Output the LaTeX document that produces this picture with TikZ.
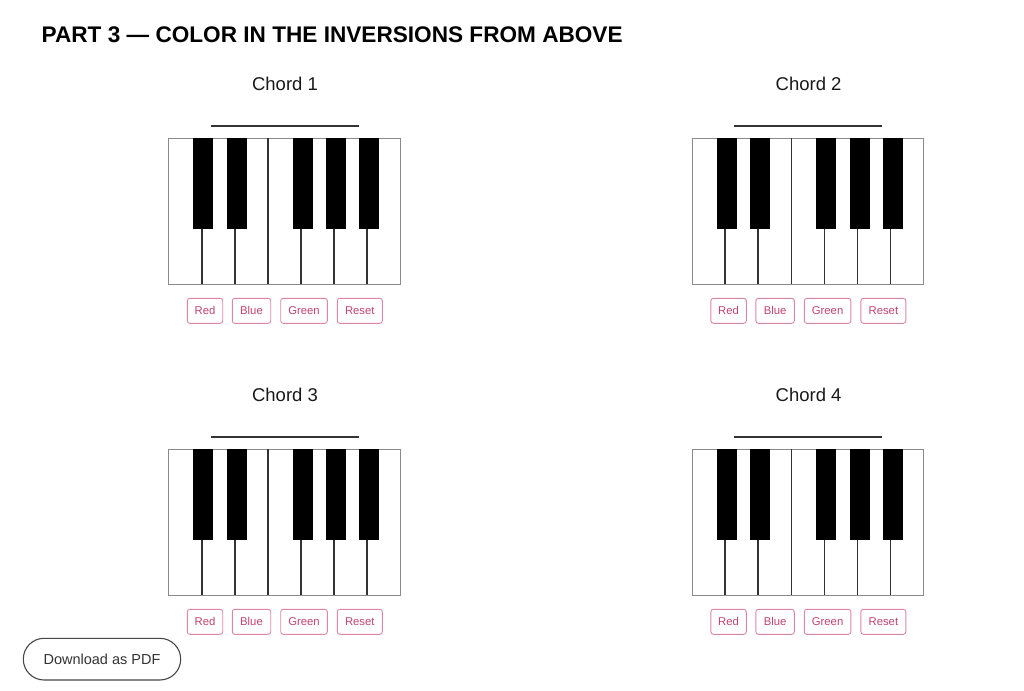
\documentclass[tikz,border=0pt]{standalone}
\usepackage{fontspec}
\setmainfont{Liberation Sans}
\definecolor{btnborder}{HTML}{DE86A6}
\definecolor{btntext}{HTML}{C2436F}
\definecolor{dline}{HTML}{333333}
\definecolor{kborder}{HTML}{8A8A8A}
\tikzset{
  btn/.style={draw=btnborder, line width=0.9pt, rounded corners=2.5pt},
  btnlabel/.style={text=btntext, font=\fontsize{11.3}{13}\selectfont, inner sep=0pt},
  chordlabel/.style={font=\fontsize{18.5}{22}\selectfont, inner sep=0pt, text=black!90},
  pics/keyboard/.style={code={
    \draw[dline, line width=1.6pt] (42,-12.3) -- (190,-12.3);
    \draw[kborder, line width=1pt, fill=white] (0,0) rectangle (231.3,146);
    \foreach \d in {33,66,132.3,165.3,198.3}
      \draw[dline, line width=1.7pt] (\d,91) -- (\d,146);
    \draw[dline, line width=1.7pt] (99.1,0) -- (99.1,146);
    \foreach \b in {24.6,58,124,157.3,190.3}
      \fill[black] (\b,0) rectangle ++(20,91);
    \node[chordlabel] (-label) at (116.3,-54) {#1};
    \draw[btn] (18.6,160.3) rectangle (54,185.3);
    \node[btnlabel] (-red) at (36.3,172.8) {Red};
    \draw[btn] (63.6,160.3) rectangle (102,185.3);
    \node[btnlabel] (-blue) at (82.8,172.8) {Blue};
    \draw[btn] (112,160.3) rectangle (158.6,185.3);
    \node[btnlabel] (-green) at (135.3,172.8) {Green};
    \draw[btn] (168.6,160.3) rectangle (213.6,185.3);
    \node[btnlabel] (-reset) at (191.1,172.8) {Reset};
  }}
}
\begin{document}
\begin{tikzpicture}[x=1pt,y=-1pt]
\useasboundingbox[fill=white] (0,0) rectangle (1024,690);
\node[anchor=base west, inner sep=0pt, font=\fontsize{22.6}{26}\bfseries\selectfont] (title) at (41.5,43) {PART 3 — COLOR IN THE INVERSIONS FROM ABOVE};
\pic (k1) at (168.7,138) {keyboard={Chord 1}};
\pic (k2) at (692.3,138) {keyboard={Chord 2}};
\pic (k3) at (168.7,449) {keyboard={Chord 3}};
\pic (k4) at (692.3,449) {keyboard={Chord 4}};
\draw[dline!90, line width=1.1pt, rounded corners=20.8pt] (23.3,638.3) rectangle (180.7,680);
\node[font=\fontsize{14.5}{17}\selectfont, text=dline, inner sep=0pt] (pdf) at (102,659.5) {Download as PDF};
\end{tikzpicture}
\end{document}
